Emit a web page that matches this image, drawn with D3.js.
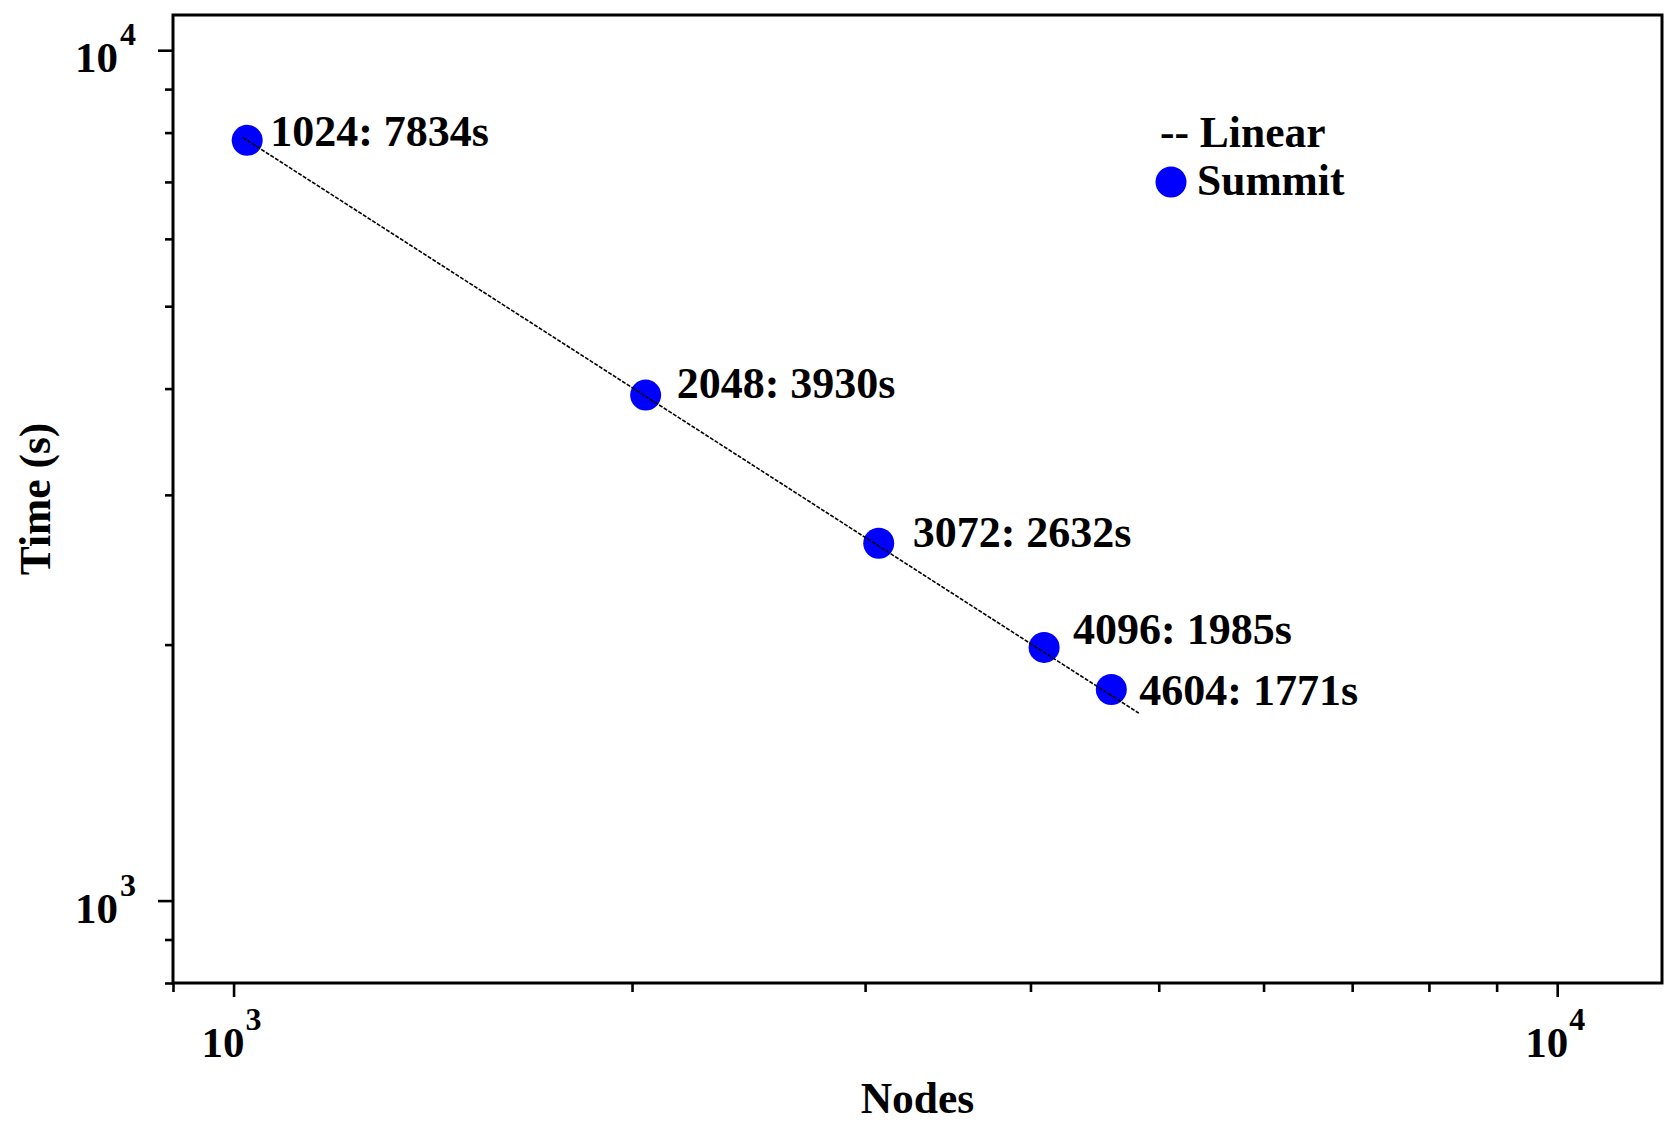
<!DOCTYPE html>
<html>
<head>
<meta charset="utf-8">
<script src="https://cdn.jsdelivr.net/npm/d3@7"></script>
<style>
  html, body { margin: 0; padding: 0; background: #fff; }
  svg { display: block; }
  text { font-family: "Liberation Serif", "Times New Roman", serif; font-weight: bold; fill: #000; }
</style>
</head>
<body>
<svg id="chart" width="1664" height="1123"></svg>
<script>
// Strong-scaling runs on Summit
const nodes = [1024, 2048, 3072, 4096, 4604];
const times = [7834, 3930, 2632, 1985, 1771];

// Ideal (linear) scaling reference line end points
const linearNodes = [1016, 4830];
const linearTimes = [7896, 1661];

// Axis ticks
const xMajorTicks = [1000, 10000];
const xMinorTicks = [900, 2000, 3000, 4000, 5000, 6000, 7000, 8000, 9000];
const yMajorTicks = [1000, 10000];
const yMinorTicks = [800, 900, 2000, 3000, 4000, 5000, 6000, 7000, 8000, 9000];

const legendLabels = ["-- Linear", "Summit"];

// Per-label text offsets from each marker (layout only)
const labelOffsets = [[23, 6], [31, 3], [34, 4], [29, -3], [28, 15]];

const svg = d3.select("#chart");
const L = 173, R = 1662, T = 15, B = 983;

const x = d3.scaleLog().domain([900, 12000]).range([L, R]);
const y = d3.scaleLog().domain([800, 11000]).range([B, T]);

// Ticks
function drawTicks(axisFn, scale, values, size, transform) {
  const g = svg.append("g").attr("transform", transform)
    .call(axisFn(scale).tickValues(values).tickSize(size).tickFormat(""));
  g.select(".domain").remove();
  g.selectAll(".tick line").attr("stroke", "#000").attr("stroke-width", 2.6);
  return g;
}
drawTicks(d3.axisBottom, x, xMinorTicks, 9, `translate(0,${B})`);
drawTicks(d3.axisBottom, x, xMajorTicks, 14, `translate(0,${B})`);
drawTicks(d3.axisLeft, y, yMinorTicks, 8, `translate(${L},0)`);
drawTicks(d3.axisLeft, y, yMajorTicks, 15, `translate(${L},0)`);

// Tick labels as 10^n
const exp = v => Math.round(Math.log10(v));
xMajorTicks.forEach(v => {
  const t = svg.append("text")
    .attr("x", x(v) - 2).attr("y", 1057)
    .attr("text-anchor", "middle").attr("font-size", 43);
  t.append("tspan").text("10");
  t.append("tspan").attr("dx", 1).attr("dy", -27).attr("font-size", 32).text(exp(v));
});
yMajorTicks.forEach(v => {
  const t = svg.append("text")
    .attr("x", 136).attr("y", y(v) + 22)
    .attr("text-anchor", "end").attr("font-size", 43);
  t.append("tspan").text("10");
  t.append("tspan").attr("dx", 2).attr("dy", -27).attr("font-size", 32).text(exp(v));
});

// Frame
svg.append("rect")
  .attr("x", L).attr("y", T).attr("width", R - L).attr("height", B - T)
  .attr("fill", "none").attr("stroke", "#000").attr("stroke-width", 3);

// Markers
const pts = d3.zip(nodes, times);
svg.append("g").selectAll("circle").data(pts).join("circle")
  .attr("cx", d => x(d[0])).attr("cy", d => y(d[1])).attr("r", 15.5)
  .attr("fill", "#0000ff");

// Linear reference line, drawn over the markers
const line = d3.line().x(d => x(d[0])).y(d => y(d[1]));
svg.append("path")
  .datum(d3.zip(linearNodes, linearTimes))
  .attr("d", line)
  .attr("fill", "none").attr("stroke", "#000")
  .attr("stroke-width", 1.6).attr("stroke-dasharray", "4,1.5");

// Value labels
svg.append("g").selectAll("text").data(pts).join("text")
  .attr("x", (d, i) => x(d[0]) + labelOffsets[i][0])
  .attr("y", (d, i) => y(d[1]) + labelOffsets[i][1])
  .attr("font-size", 44)
  .text(d => `${d[0]}: ${d[1]}s`);

// Legend
svg.append("text").attr("x", 1160).attr("y", 147).attr("font-size", 43.5).text(legendLabels[0]);
svg.append("circle").attr("cx", 1171).attr("cy", 182).attr("r", 15.5).attr("fill", "#0000ff");
svg.append("text").attr("x", 1197).attr("y", 195).attr("font-size", 43.5).text(legendLabels[1]);

// Axis titles
svg.append("text").attr("x", (L + R) / 2).attr("y", 1113)
  .attr("text-anchor", "middle").attr("font-size", 43.5).text("Nodes");
svg.append("text")
  .attr("transform", `translate(50,${(T + B) / 2}) rotate(-90)`)
  .attr("text-anchor", "middle").attr("font-size", 43.5).text("Time (s)");
</script>
</body>
</html>
